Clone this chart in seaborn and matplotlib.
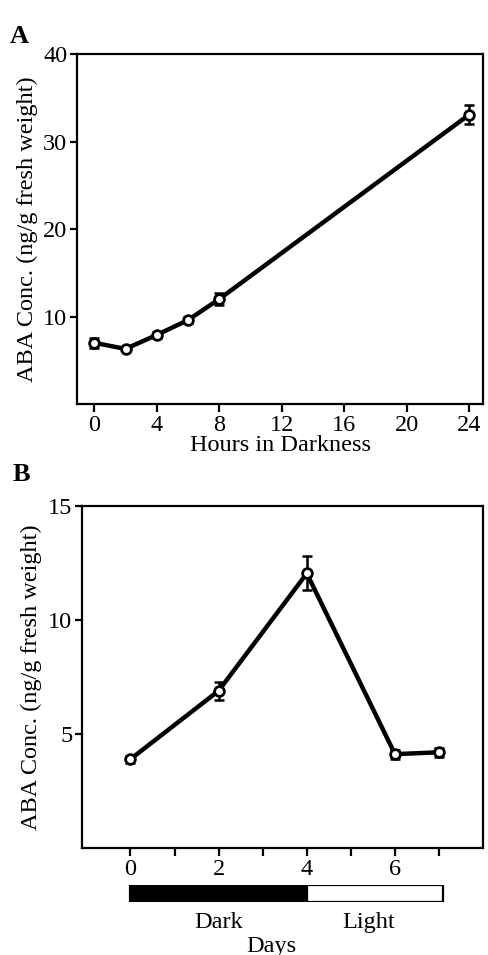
"""ABA concentration over darkness (A) and dark/light days (B)."""

import matplotlib

matplotlib.use("Agg")
import matplotlib.pyplot as plt
import numpy as np
import pandas as pd
import seaborn as sns

# ---------------------------------------------------------------------------
# Data
# ---------------------------------------------------------------------------

hours = [0, 2, 4, 6, 8, 24]
aba_hours = [7.0, 6.3, 7.9, 9.6, 12.0, 33.1]
aba_hours_err = [0.55, 0.25, 0.3, 0.3, 0.7, 1.1]

days = [0, 2, 4, 6, 7]
aba_days = [3.9, 6.9, 12.05, 4.12, 4.2]
aba_days_err = [0.15, 0.4, 0.75, 0.2, 0.2]

phase_labels = ["Dark", "Light"]
phase_start = [0, 4]
phase_end = [4, 7.1]
phase_colours = ["black", "white"]

hour_ticks = [0, 4, 8, 12, 16, 20, 24]
day_ticks = [0, 1, 2, 3, 4, 5, 6, 7]
day_ticklabels = ["0", "", "2", "", "4", "", "6", ""]

# ---------------------------------------------------------------------------
# Style
# ---------------------------------------------------------------------------

sns.set_theme(style="ticks")
plt.rcParams["font.family"] = ["Liberation Serif", "DejaVu Serif"]
plt.rcParams["text.color"] = "black"
plt.rcParams["axes.labelcolor"] = "black"
plt.rcParams["axes.linewidth"] = 1.6
plt.rcParams["xtick.major.width"] = 1.6
plt.rcParams["ytick.major.width"] = 1.6
plt.rcParams["xtick.major.size"] = 6
plt.rcParams["ytick.major.size"] = 5
plt.rcParams["xtick.direction"] = "out"
plt.rcParams["ytick.direction"] = "out"

FS = 17.5
LINE_KW = dict(color="black", linewidth=3.2, marker="o", markersize=7,
               markerfacecolor="white", markeredgecolor="black",
               markeredgewidth=2.0)
ERR_KW = dict(fmt="none", ecolor="black", elinewidth=1.8, capsize=3.5,
              capthick=1.8, zorder=1)
YLABEL = "ABA Conc. (ng/g fresh weight)"


def style_axes(ax):
    for spine in ax.spines.values():
        spine.set_color("black")
        spine.set_linewidth(1.6)
    ax.tick_params(colors="black", labelcolor="black", labelsize=FS, pad=2)


fig = plt.figure(figsize=(4.88, 9.55), dpi=100)

# ---------------------------------------------------------------------------
# Panel A
# ---------------------------------------------------------------------------

ax_a = fig.add_axes([0.158, 0.577, 0.832, 0.366])
df_a = pd.DataFrame({"hours": hours, "aba": aba_hours})
ax_a.errorbar(hours, aba_hours, yerr=aba_hours_err, **ERR_KW)
sns.lineplot(data=df_a, x="hours", y="aba", ax=ax_a, **LINE_KW)
ax_a.set_xlim(-1.1, 24.9)
ax_a.set_ylim(0, 40)
ax_a.set_xticks(hour_ticks)
ax_a.set_yticks([10, 20, 30, 40])
style_axes(ax_a)
ax_a.set_xlabel("Hours in Darkness", fontsize=FS, labelpad=-1)
ax_a.set_ylabel(YLABEL, fontsize=FS, labelpad=4)
fig.text(0.02, 0.962, "A", fontsize=19, fontweight="bold", va="center")

# ---------------------------------------------------------------------------
# Panel B
# ---------------------------------------------------------------------------

ax_b = fig.add_axes([0.168, 0.112, 0.822, 0.358])
df_b = pd.DataFrame({"days": days, "aba": aba_days})
ax_b.errorbar(days, aba_days, yerr=aba_days_err, **ERR_KW)
sns.lineplot(data=df_b, x="days", y="aba", ax=ax_b, **LINE_KW)
ax_b.set_xlim(-1.1, 8.0)
ax_b.set_ylim(0, 15)
ax_b.set_xticks(day_ticks)
ax_b.set_xticklabels(day_ticklabels)
ax_b.set_yticks([5, 10, 15])
style_axes(ax_b)
ax_b.set_xlabel("")
ax_b.set_ylabel(YLABEL, fontsize=FS, labelpad=4)
fig.text(0.025, 0.503, "B", fontsize=19, fontweight="bold", va="center")

# Dark / light bar under panel B, sharing the day scale
ax_bar = fig.add_axes([0.168, 0.0555, 0.822, 0.0178], sharex=ax_b)
for start, end, colour in zip(phase_start, phase_end, phase_colours):
    ax_bar.barh(0, end - start, left=start, height=1.0, color=colour,
                edgecolor="black", linewidth=1.6)
ax_bar.set_ylim(-0.5, 0.5)
ax_bar.axis("off")
ax_bar.set_xlim(-1.1, 8.0)

label_x = [2.0, 5.4]
for label, lx in zip(phase_labels, label_x):
    ax_bar.text(lx, -1.7, label, ha="center", va="center", fontsize=FS,
                color="black")
ax_bar.text(3.2, -3.1, "Days", ha="center", va="center", fontsize=FS,
            color="black")

fig.savefig("out.png", dpi=100)
